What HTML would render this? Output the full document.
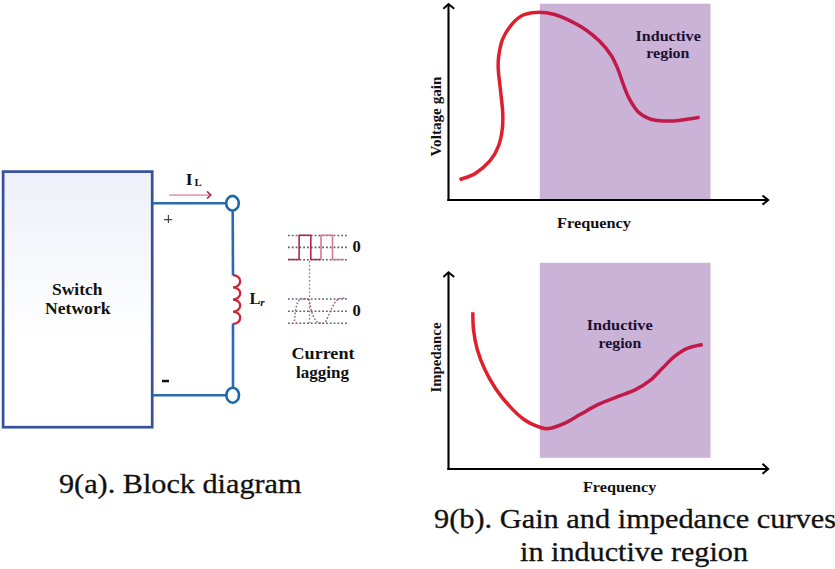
<!DOCTYPE html>
<html><head><meta charset="utf-8">
<style>
html,body{margin:0;padding:0;background:#fff;width:835px;height:569px;overflow:hidden}
svg{display:block}
text{font-family:"Liberation Serif",serif}
.b{font-weight:bold}
</style></head>
<body>
<svg width="835" height="569" viewBox="0 0 835 569">
<defs><linearGradient id="rg" gradientUnits="userSpaceOnUse" x1="528" y1="0" x2="556" y2="0"><stop offset="0" stop-color="#e01e2c"/><stop offset="1" stop-color="#bf1a4a"/></linearGradient><linearGradient id="bg" gradientUnits="userSpaceOnUse" x1="0" y1="172" x2="0" y2="340"><stop offset="0" stop-color="#edf0f8"/><stop offset="1" stop-color="#ffffff"/></linearGradient></defs>
<!-- ===== LEFT: block diagram ===== -->
<rect x="3.1" y="171.6" width="149.1" height="255.6" fill="url(#bg)" stroke="#36519c" stroke-width="2.7"/>
<text class="b" x="52" y="294.6" font-size="17" textLength="50.5" lengthAdjust="spacingAndGlyphs" fill="#111">Switch</text>
<text class="b" x="45" y="314.3" font-size="17" textLength="65.5" lengthAdjust="spacingAndGlyphs" fill="#111">Network</text>

<!-- wires -->
<line x1="153" y1="203.3" x2="226" y2="203.3" stroke="#2a68b0" stroke-width="2.6"/>
<line x1="153" y1="395.2" x2="226.5" y2="395.2" stroke="#2a68b0" stroke-width="2.6"/>
<ellipse cx="232.5" cy="203.2" rx="6.3" ry="7.3" fill="#fff" stroke="#1b68ac" stroke-width="2.6"/>
<ellipse cx="232.7" cy="395.2" rx="6.3" ry="7.5" fill="#fff" stroke="#1b68ac" stroke-width="2.6"/>
<line x1="232.7" y1="210.5" x2="233" y2="275.5" stroke="#2a6ab0" stroke-width="2.6"/>
<line x1="233" y1="323.5" x2="233" y2="387.8" stroke="#2a6ab0" stroke-width="2.6"/>
<!-- inductor -->
<path d="M233 275.2 a7.2 6.07 0 0 1 0 12.15 a7.2 6.07 0 0 1 0 12.15 a7.2 6.07 0 0 1 0 12.15 a7.2 6.07 0 0 1 0 12.15" fill="none" stroke="#c82838" stroke-width="2.3"/>

<!-- I_L arrow -->
<line x1="169.3" y1="195.1" x2="210" y2="195.1" stroke="#e4a0bc" stroke-width="1.6"/>
<path d="M207 191.4 L210.8 195.1 L207 198.6" fill="none" stroke="#b03050" stroke-width="1.6"/>
<text class="b" x="185.8" y="184.6" font-size="17.5" fill="#111">I</text>
<text class="b" x="194.6" y="186.3" font-size="10.8" fill="#111">L</text>
<path d="M164 219.7 H172.2 M168.4 215 V223" stroke="#444" stroke-width="1.2" fill="none"/>
<rect x="162" y="379.8" width="7" height="2.5" fill="#111"/>

<text class="b" x="249.6" y="304" font-size="16.5" fill="#111">L</text>
<text class="b" x="260.3" y="306.3" font-size="11" font-style="italic" fill="#111">r</text>

<!-- waveforms -->
<g stroke="#5a6078" stroke-width="1.6" stroke-dasharray="1.8 2" fill="none">
<line x1="288" y1="235.5" x2="347" y2="235.5"/>
<line x1="288" y1="247.4" x2="347" y2="247.4"/>
<line x1="288" y1="259.7" x2="347" y2="259.7"/>
<line x1="288" y1="299" x2="347" y2="299"/>
<line x1="288" y1="311.2" x2="347" y2="311.2"/>
<line x1="288" y1="323.3" x2="347" y2="323.3"/>
<line x1="309.5" y1="261" x2="309.5" y2="323" stroke="#8088a8" stroke-width="1.3"/>
</g>
<path d="M288 259.5 H299.1 V235.2 H310.8 V259.5 H321" fill="none" stroke="#b02848" stroke-width="1.6"/>
<path d="M321 259.5 V235.2 H332.5 V259.5 H344" fill="none" stroke="#d87890" stroke-width="1.6"/>
<path d="M294.4 321.0 C294.7 318.6 295.5 310.0 296.3 306.5 C297.1 303.0 297.9 301.3 299.4 300.0 C300.9 298.7 303.6 298.8 305.2 298.9 C306.8 299.0 307.9 298.6 309.0 300.6 C310.1 302.7 310.5 308.0 311.5 311.2 C312.5 314.4 313.8 317.7 315.1 319.6 C316.4 321.5 317.8 322.4 319.5 322.8 C321.2 323.2 323.3 324.2 325.1 322.3 C326.9 320.4 328.8 314.5 330.4 311.2 C332.0 307.9 333.5 304.6 335.0 302.5 C336.5 300.4 337.8 299.3 339.6 298.6 C341.4 297.9 344.8 298.2 345.8 298.1" fill="none" stroke="#a05070" stroke-width="1.4" stroke-dasharray="1.6 1.8"/>
<text class="b" x="352.6" y="252.3" font-size="16.5" fill="#111">0</text>
<text class="b" x="352.6" y="316.3" font-size="16.5" fill="#111">0</text>

<text class="b" x="291.5" y="358.5" font-size="16" textLength="63" lengthAdjust="spacingAndGlyphs" fill="#111">Current</text>
<text class="b" x="296" y="377.6" font-size="16" textLength="53" lengthAdjust="spacingAndGlyphs" fill="#111">lagging</text>

<text x="59" y="493" font-size="27.5" textLength="242.5" lengthAdjust="spacingAndGlyphs" fill="#111" stroke="#111" stroke-width="0.3">9(a). Block diagram</text>

<!-- ===== RIGHT TOP CHART ===== -->
<rect x="539.8" y="3.7" width="170.7" height="195.5" fill="#cbb2d7"/>
<line x1="448.5" y1="4.5" x2="448.5" y2="201" stroke="#000" stroke-width="2.1"/>
<line x1="447.4" y1="200" x2="767.5" y2="200" stroke="#000" stroke-width="2.1"/>
<path d="M443.4 8.7 L448.5 4 L454.2 8.7" fill="none" stroke="#000" stroke-width="2"/>
<path d="M762.5 195.5 L768.2 200 L762.5 204.6" fill="none" stroke="#000" stroke-width="2"/>
<path d="M459.5 179.7 C462.1 178.6 470.2 176.6 475.3 173.4 C480.4 170.2 486.2 165.3 490.1 160.7 C494.0 156.1 496.5 151.3 498.5 146.0 C500.5 140.7 501.6 134.7 502.3 129.1 C503.0 123.5 503.0 118.5 502.7 112.2 C502.4 105.9 501.3 98.1 500.6 91.1 C499.9 84.1 498.6 75.7 498.3 70.0 C498.0 64.3 497.9 62.1 498.6 57.0 C499.3 51.9 500.4 44.7 502.5 39.4 C504.6 34.1 507.7 29.3 511.0 25.3 C514.3 21.3 518.0 17.6 522.2 15.5 C526.4 13.3 531.0 12.6 536.3 12.4 C541.5 12.2 548.1 12.8 553.7 14.2 C559.3 15.6 564.4 18.0 569.7 20.6 C575.0 23.2 580.8 26.3 585.7 29.7 C590.7 33.1 595.2 36.9 599.4 41.1 C603.6 45.3 607.8 50.3 610.9 54.9 C614.0 59.5 615.6 63.6 617.7 68.6 C619.8 73.5 621.5 79.6 623.4 84.6 C625.3 89.5 626.6 93.7 629.1 98.3 C631.6 102.9 634.9 108.6 638.3 112.0 C641.7 115.4 645.8 117.4 649.7 118.9 C653.6 120.4 657.9 120.6 661.9 120.9 C665.9 121.2 669.7 121.2 673.9 120.9 C678.1 120.6 682.8 119.9 687.1 119.3 C691.4 118.7 697.5 117.6 699.6 117.3" fill="none" stroke="url(#rg)" stroke-width="3.5"/>
<text class="b" transform="translate(441.2 156.5) rotate(-90)" font-size="15" textLength="80" lengthAdjust="spacingAndGlyphs" fill="#111">Voltage gain</text>
<text class="b" x="557" y="227.9" font-size="15" textLength="74" lengthAdjust="spacingAndGlyphs" fill="#111">Frequency</text>
<text class="b" x="635.5" y="40.6" font-size="14.5" textLength="65.3" lengthAdjust="spacingAndGlyphs" fill="#1a1030">Inductive</text>
<text class="b" x="646.3" y="58.3" font-size="14.5" textLength="43.2" lengthAdjust="spacingAndGlyphs" fill="#1a1030">region</text>

<!-- ===== RIGHT BOTTOM CHART ===== -->
<rect x="539.8" y="262.8" width="170.7" height="195" fill="#cbb2d7"/>
<line x1="448.5" y1="272.5" x2="448.5" y2="470" stroke="#000" stroke-width="2.1"/>
<line x1="447.4" y1="469" x2="767.5" y2="469" stroke="#000" stroke-width="2.1"/>
<path d="M443.4 277 L448.5 272.3 L454.2 277" fill="none" stroke="#000" stroke-width="2"/>
<path d="M762.5 463.8 L768.2 469 L762.5 473.8" fill="none" stroke="#000" stroke-width="2"/>
<path d="M472.8 312.3 C472.9 315.2 472.8 323.4 473.5 329.6 C474.2 335.8 475.3 342.7 477.2 349.3 C479.1 355.9 481.5 362.4 484.6 369.0 C487.7 375.6 491.6 382.6 495.7 388.7 C499.8 394.8 504.6 400.8 509.3 405.9 C514.0 411.0 519.1 416.0 524.0 419.5 C528.9 423.0 534.7 425.3 538.8 426.8 C542.9 428.3 544.2 429.3 548.7 428.6 C553.2 427.9 560.1 425.2 565.5 422.8 C570.9 420.4 575.4 417.2 580.9 414.1 C586.4 411.0 592.2 407.3 598.3 404.4 C604.4 401.5 611.5 399.1 617.6 396.7 C623.7 394.3 629.5 392.6 635.0 389.9 C640.5 387.1 646.0 383.8 650.5 380.2 C655.0 376.6 658.2 372.5 662.1 368.6 C666.0 364.8 669.5 360.5 673.7 357.1 C677.9 353.7 682.4 350.5 687.2 348.4 C692.0 346.3 700.1 345.1 702.7 344.5" fill="none" stroke="url(#rg)" stroke-width="3.5"/>
<text class="b" transform="translate(441.2 392.5) rotate(-90)" font-size="15" textLength="70" lengthAdjust="spacingAndGlyphs" fill="#111">Impedance</text>
<text class="b" x="583" y="491.6" font-size="15" textLength="73.3" lengthAdjust="spacingAndGlyphs" fill="#111">Frequency</text>
<text class="b" x="586.7" y="330.1" font-size="14.5" textLength="66" lengthAdjust="spacingAndGlyphs" fill="#1a1030">Inductive</text>
<text class="b" x="598.6" y="347.5" font-size="14.5" textLength="42.7" lengthAdjust="spacingAndGlyphs" fill="#1a1030">region</text>

<text x="434" y="527.8" font-size="27.5" textLength="402" lengthAdjust="spacingAndGlyphs" fill="#111" stroke="#111" stroke-width="0.3">9(b). Gain and impedance curves</text>
<text x="520" y="560.5" font-size="27.5" textLength="228" lengthAdjust="spacingAndGlyphs" fill="#111" stroke="#111" stroke-width="0.3">in inductive region</text>
</svg>
</body></html>
